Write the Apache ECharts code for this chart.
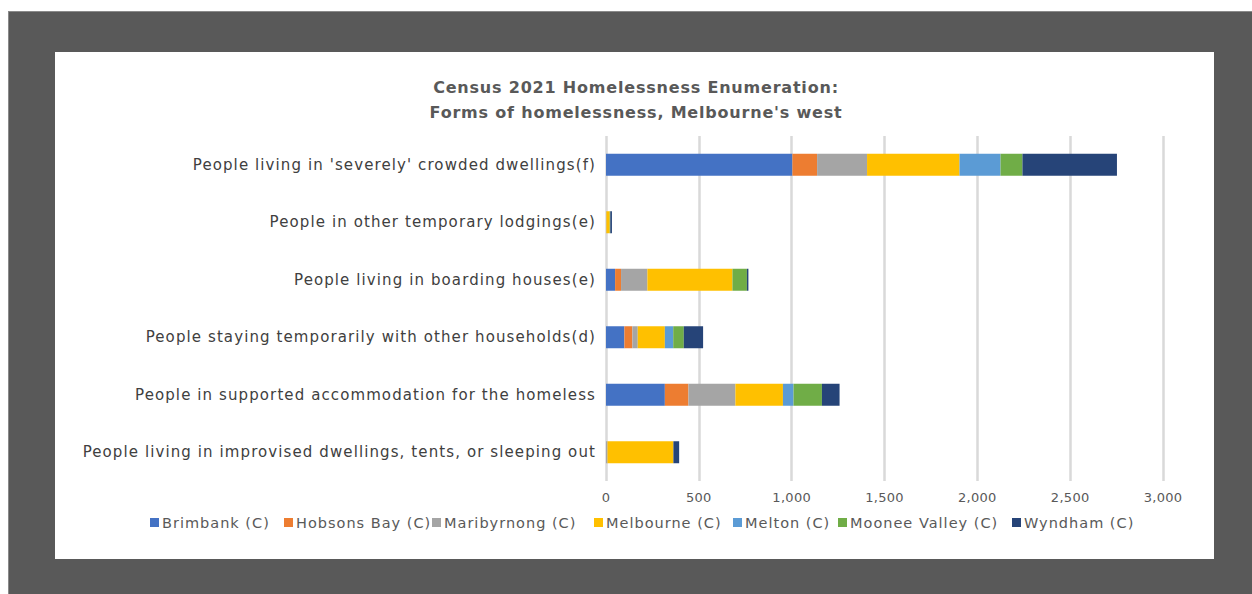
<!DOCTYPE html>
<html>
<head>
<meta charset="utf-8">
<script src="https://cdn.jsdelivr.net/npm/echarts@6/dist/echarts.min.js"></script>
<style>
  html, body { margin: 0; padding: 0; background: #ffffff; }
  #frame { position: absolute; left: 8px; top: 11px; right: 0; bottom: 0; background: #595959; border-left: 1px solid #8a8a8a; border-top: 1px solid #8a8a8a; }
  #panel { position: absolute; left: 55px; top: 52px; width: 1159px; height: 507px; background: #ffffff; }
  #chart { position: absolute; left: 0; top: 0; width: 1252px; height: 594px; }
  /* spaced-out lettering for the chart texts */
  #chart text { letter-spacing: 1px; }
  #chart text[style*="15px"] { letter-spacing: 1.1px; }
  #chart text[style*="bold"] { letter-spacing: 0.8px; }
  #chart text[style*="13px"] { letter-spacing: 0.3px; }
</style>
</head>
<body>
<div id="frame"></div>
<div id="panel"></div>
<div id="chart"></div>
<script>
// Forms of homelessness by local government area, Census 2021
const categories = [
  "People living in 'severely' crowded dwellings(f)",
  "People in other temporary lodgings(e)",
  "People living in boarding houses(e)",
  "People staying temporarily with other households(d)",
  "People in supported accommodation for the homeless",
  "People living in improvised dwellings, tents, or sleeping out"
];

const councils = [
  "Brimbank (C)", "Hobsons Bay (C)", "Maribyrnong (C)", "Melbourne (C)",
  "Melton (C)", "Moonee Valley (C)", "Wyndham (C)"
];

// values follow the category order above
const brimbank     = [1004, 0,  49,  99, 317,   0];
const hobsonsBay   = [ 133, 0,  32,  43, 127,   0];
const maribyrnong  = [ 269, 2, 142,  29, 253,   8];
const melbourne    = [ 498, 18, 458, 146, 256, 355];
const melton       = [ 221, 0,   0,  45,  57,   0];
const mooneeValley = [ 118, 3,  78,  57, 153,   0];
const wyndham      = [ 509, 9,   8, 104,  95,  31];

const xTicks = { min: 0, max: 3000, interval: 500 };

const seriesValues = [brimbank, hobsonsBay, maribyrnong, melbourne, melton, mooneeValley, wyndham];
const colors = ["#4472c4", "#ed7d31", "#a5a5a5", "#ffc000", "#5b9bd5", "#70ad47", "#264478"];

// legend entries sit on one row, each placed at its own x
const legendLeft = [150, 284, 432, 594, 733, 838, 1012];

const chart = echarts.init(document.getElementById('chart'), null, { renderer: 'svg' });

chart.setOption({
  backgroundColor: 'transparent',
  animation: false,
  title: {
    text: "Census 2021 Homelessness Enumeration:\nForms of homelessness, Melbourne's west",
    left: 631,
    textAlign: 'center',
    top: 70,
    textStyle: {
      fontFamily: 'DejaVu Sans',
      fontWeight: 'bold',
      fontSize: 16,
      lineHeight: 25,
      color: '#595959'
    }
  },
  legend: councils.map((name, i) => ({
    data: [name],
    left: legendLeft[i],
    top: 515,
    padding: 0,
    icon: 'rect',
    itemWidth: 9,
    itemHeight: 9,
    selectedMode: false,
    textStyle: {
      fontFamily: 'DejaVu Sans',
      fontSize: 14.5,
      color: '#595959',
      padding: [0, 0, 0, -2]
    }
  })),
  grid: { left: 606, right: 89, top: 136, bottom: 113, containLabel: false },
  xAxis: {
    type: 'value',
    min: xTicks.min,
    max: xTicks.max,
    interval: xTicks.interval,
    axisLine: { show: false },
    axisTick: { show: false },
    axisLabel: {
      fontFamily: 'DejaVu Sans',
      fontSize: 13,
      color: '#595959',
      margin: 10,
      formatter: v => v.toLocaleString('en-US')
    },
    splitLine: { lineStyle: { color: '#d9d9d9', width: 2.5 } }
  },
  yAxis: {
    type: 'category',
    data: categories,
    inverse: true,
    axisLine: { show: false },
    axisTick: { show: false },
    axisLabel: {
      fontFamily: 'DejaVu Sans',
      fontSize: 15,
      color: '#404040',
      margin: 10
    }
  },
  series: councils.map((name, i) => ({
    name: name,
    type: 'bar',
    stack: 'total',
    barWidth: 22,
    data: seriesValues[i],
    itemStyle: { color: colors[i] }
  }))
});
</script>
</body>
</html>
